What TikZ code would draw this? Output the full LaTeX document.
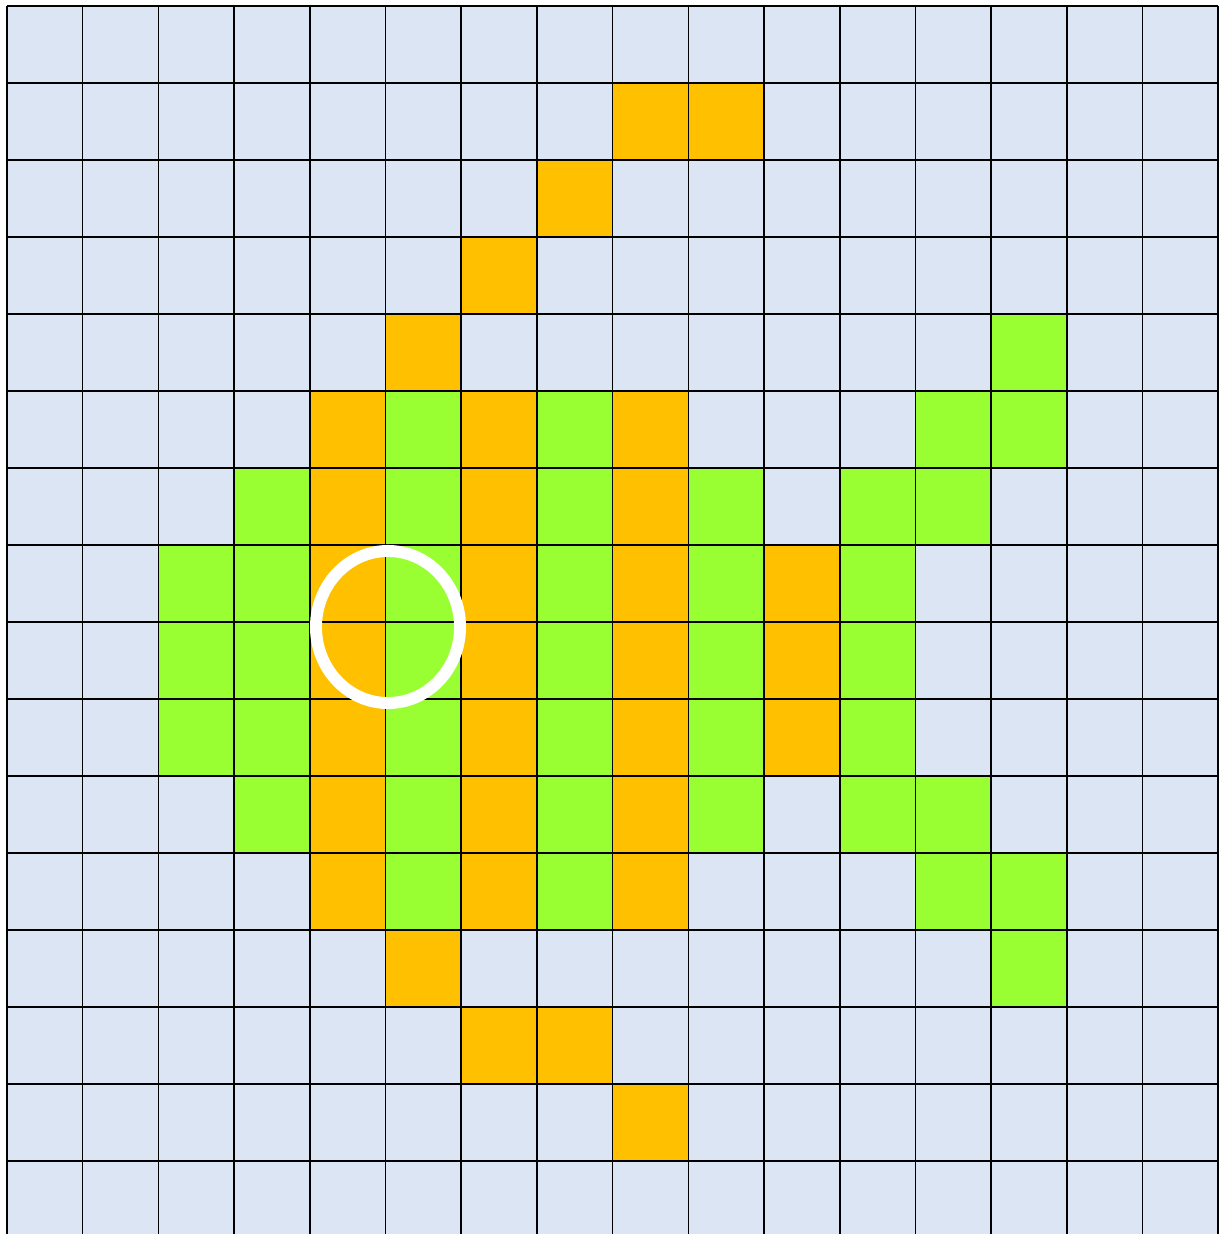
\documentclass[tikz,border=0pt]{standalone}
\definecolor{cellblue}{HTML}{DCE5F4}
\definecolor{cellorange}{HTML}{FFC000}
\definecolor{cellgreen}{HTML}{99FF33}
\begin{document}
\begin{tikzpicture}[x=0.01cm,y=-0.01cm,
  gridline/.style={line width=0.45pt, draw=black},
  ring/.style={draw=white, line width=3.4pt},
  orangecell/.style={fill=cellorange},
  greencell/.style={fill=cellgreen}]
\useasboundingbox (0,0) rectangle (1220,1234);
\begin{scope}
\clip (0,0) rectangle (1220,1234);
\fill[cellblue] (7,6) rectangle (1218.2,1240);
\foreach \c/\r in {8/1,9/1,7/2,6/3,5/4,
  4/5,6/5,8/5, 4/6,6/6,8/6, 4/7,6/7,8/7,10/7, 4/8,6/8,8/8,10/8, 4/9,6/9,8/9,10/9,
  4/10,6/10,8/10, 4/11,6/11,8/11, 5/12, 6/13,7/13, 8/14}
  \fill[orangecell] ({7+\c*75.7},{6+\r*77}) rectangle ({7+(\c+1)*75.7},{6+(\r+1)*77});
\foreach \c/\r in {13/4, 5/5,7/5,12/5,13/5, 3/6,5/6,7/6,9/6,11/6,12/6,
  2/7,3/7,5/7,7/7,9/7,11/7, 2/8,3/8,5/8,7/8,9/8,11/8, 2/9,3/9,5/9,7/9,9/9,11/9,
  3/10,5/10,7/10,9/10,11/10,12/10, 5/11,7/11,12/11,13/11, 13/12}
  \fill[greencell] ({7+\c*75.7},{6+\r*77}) rectangle ({7+(\c+1)*75.7},{6+(\r+1)*77});
\foreach \i in {0,...,16}
  \draw[gridline] ({7+\i*75.7},6) -- ({7+\i*75.7},1240);
\foreach \j in {0,...,15}
  \draw[gridline] (7,{6+\j*77}) -- (1218.2,{6+\j*77});
\end{scope}
\draw[ring] (388,627) ellipse [x radius=0.72cm, y radius=0.76cm];
\end{tikzpicture}
\end{document}
